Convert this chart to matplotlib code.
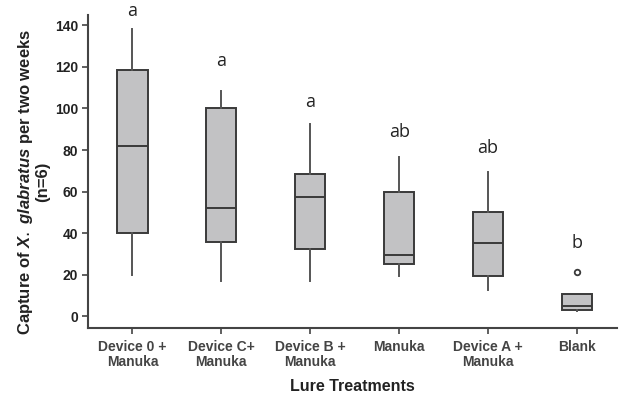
import matplotlib.pyplot as plt

treatments = ['Device 0 +\nManuka', 'Device C+\nManuka', 'Device B +\nManuka',
              'Manuka', 'Device A +\nManuka', 'Blank']
whislo = [19.7, 16.8, 17.0, 19.2, 12.8, 2.4]
q1 = [40.2, 35.7, 32.3, 25.1, 19.5, 3.2]
med = [82.0, 52.0, 57.5, 29.6, 35.2, 5.1]
q3 = [118.4, 100.1, 68.7, 60.0, 50.4, 10.9]
whishi = [138.3, 108.6, 92.7, 76.8, 69.3, 10.9]
outliers = [[], [], [], [], [], [21.3]]
letters = ['a', 'a', 'a', 'ab', 'ab', 'b']
letter_y = [146.8, 123.0, 103.0, 88.7, 80.8, 35.2]

stats = []
for i in range(len(treatments)):
    stats.append({'whislo': whislo[i], 'q1': q1[i], 'med': med[i], 'q3': q3[i],
                  'whishi': whishi[i], 'fliers': outliers[i]})

plt.rcParams['font.family'] = ['Liberation Sans', 'DejaVu Sans']
plt.rcParams['mathtext.fontset'] = 'custom'
plt.rcParams['mathtext.it'] = 'Liberation Sans:italic:bold'

fig = plt.figure(figsize=(6.2, 3.95), dpi=100)
ax = fig.add_axes([0.142, 0.170, 0.853, 0.792])

edge = '#3a3a3a'
ax.bxp(stats, positions=range(1, 7), widths=0.34, patch_artist=True, showcaps=False,
       boxprops=dict(facecolor='#c2c2c4', edgecolor=edge, linewidth=1.4),
       medianprops=dict(color=edge, linewidth=1.4),
       whiskerprops=dict(color='#555555', linewidth=1.4),
       flierprops=dict(marker='o', markersize=4, markerfacecolor='white',
                       markeredgecolor=edge, markeredgewidth=1.3))

# significance letters above each box
for i, t in enumerate(letters):
    ax.text(i + 1, letter_y[i], t, ha='center', va='center', fontsize=13,
            family='Open Sans', color='#222222', clip_on=False)

ax.set_xlim(0.5, 6.45)
ax.set_ylim(-5.6, 145)
ax.set_yticks(range(0, 141, 20))
ax.set_xticks(range(1, 7))
ax.set_xticklabels(treatments, fontsize=10, fontweight='bold', color='#222222',
                   linespacing=1.05)
ax.tick_params(axis='y', labelsize=10, labelcolor='#222222', colors='#444444',
               length=4, width=1.2, pad=3)
ax.tick_params(axis='x', colors='#444444', length=4, width=1.2, pad=5)
for lab in ax.get_yticklabels():
    lab.set_fontweight('bold')

for s in ['top', 'right']:
    ax.spines[s].set_visible(False)
for s in ['left', 'bottom']:
    ax.spines[s].set_color('#444444')
    ax.spines[s].set_linewidth(1.5)

ax.set_xlabel('Lure Treatments', fontsize=11.5, fontweight='bold', color='#222222',
              labelpad=7)
ax.set_ylabel('Capture of $\\mathit{X.}$ $\\mathit{glabratus}$ per two weeks\n(n=6)',
              fontsize=12, fontweight='bold', color='#222222', linespacing=1.0)
ax.yaxis.set_label_coords(-0.072, 0.466)

fig.savefig('out.png', dpi=100)
